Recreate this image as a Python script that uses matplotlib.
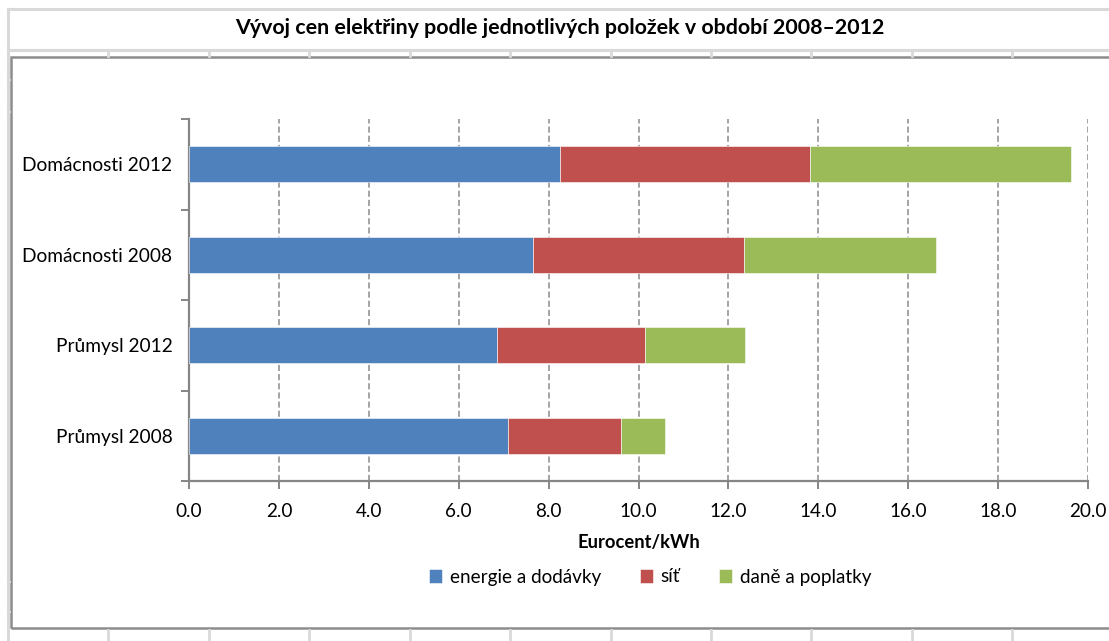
import matplotlib
matplotlib.use("Agg")
import matplotlib.pyplot as plt
from matplotlib.lines import Line2D
from matplotlib.patches import Rectangle
import numpy as np

plt.rcParams['font.family'] = ['Lato', 'DejaVu Sans']

# data (Eurocent/kWh)
categories = ["Průmysl 2008", "Průmysl 2012", "Domácnosti 2008", "Domácnosti 2012"]
energie = [7.10, 6.86, 7.66, 8.26]
sit = [2.51, 3.28, 4.69, 5.55]
dane = [0.99, 2.24, 4.27, 5.81]
series_names = ["energie a dodávky", "síť", "daně a poplatky"]
colors = ["#4f81bd", "#c0504d", "#9bbb59"]
xticks = np.arange(0, 20.1, 2.0)

W, H = 1109, 641
fig = plt.figure(figsize=(W / 100, H / 100), dpi=100)


def fx(x):
    return x / W


def fy(y):
    return 1 - y / H


# spreadsheet cell lines behind the chart
cell = "#d9d9d9"
fig.add_artist(Line2D([fx(8), fx(8)], [fy(9), fy(641)], color=cell, lw=2.2))
fig.add_artist(Line2D([fx(8), 1], [fy(9), fy(9)], color=cell, lw=2.2))
fig.add_artist(Line2D([fx(8), 1], [fy(50), fy(50)], color=cell, lw=2.2))
for cx in [108, 209, 309, 410, 510, 611, 711, 811, 912, 1012]:
    fig.add_artist(Line2D([fx(cx), fx(cx)], [fy(50), fy(56)], color=cell, lw=2))
    fig.add_artist(Line2D([fx(cx), fx(cx)], [fy(630), fy(641)], color=cell, lw=2))
for ry in [80, 112, 582, 612]:
    fig.add_artist(Line2D([fx(8), fx(10)], [fy(ry), fy(ry)], color=cell, lw=1.5))

# chart area border
fig.add_artist(Rectangle((fx(11), fy(628)), 1.2, fy(57) - fy(628),
                         fill=False, edgecolor="#8c8c8c", lw=1.8))

fig.text(fx(560), fy(28), "Vývoj cen elektřiny podle jednotlivých položek v období 2008–2012",
         ha="center", va="center", fontsize=15.4, fontweight="bold")

ax = fig.add_axes([fx(189), fy(481), fx(1088) - fx(189), fy(119) - fy(481)])

y = np.arange(len(categories))
left = np.zeros(len(categories))
for vals, name, col in zip([energie, sit, dane], series_names, colors):
    ax.barh(y, vals, left=left, height=0.4, color=col, label=name,
            edgecolor="white", linewidth=0.4, zorder=3)
    left += np.array(vals)

ax.set_xlim(0, 20)
ax.set_ylim(-0.5, len(categories) - 0.5)
ax.set_xticks(xticks)
ax.set_xticklabels([f"{v:.1f}" for v in xticks])
ax.set_yticks(y)
ax.set_yticklabels(categories)
ax.set_yticks(np.arange(-0.5, len(categories)), minor=True)
ax.tick_params(axis="y", which="major", length=0, pad=12, labelsize=13.8)
ax.tick_params(axis="y", which="minor", length=6, width=1.4, color="#868686")
ax.tick_params(axis="x", length=6, width=1.4, color="#868686", pad=10, labelsize=13.6)

ax.grid(axis="x", color="#8c8c8c", linestyle=(0, (4, 2)), lw=1.1, zorder=0)
for side in ["top", "right"]:
    ax.spines[side].set_visible(False)
for side in ["left", "bottom"]:
    ax.spines[side].set_color("#868686")
    ax.spines[side].set_linewidth(1.6)

ax.set_xlabel("Eurocent/kWh", fontsize=13.2, fontweight="bold", labelpad=10)

fig.legend(loc="center", bbox_to_anchor=(fx(650), fy(577)), ncol=3, frameon=False,
           fontsize=13.6, handlelength=0.7, handleheight=0.7, handletextpad=0.4,
           columnspacing=2.05)

fig.savefig("out.png", dpi=100)
